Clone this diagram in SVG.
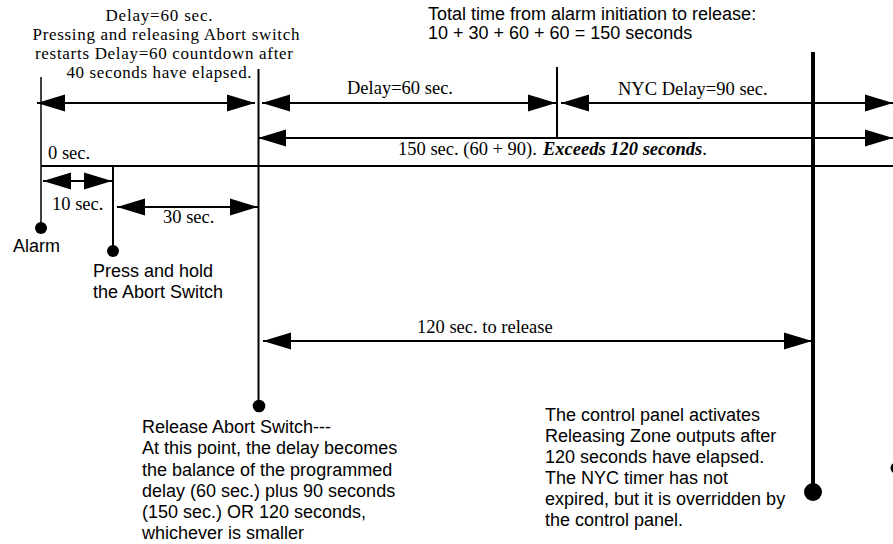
<svg xmlns="http://www.w3.org/2000/svg" width="893" height="544" viewBox="0 0 893 544">
<style>
.serif{font-family:"Liberation Serif","Times New Roman",serif;font-size:18.5px;fill:#000}
.serif-s{font-family:"Liberation Serif","Times New Roman",serif;font-size:17px;fill:#000}
.sans{font-family:"Liberation Sans",Arial,sans-serif;font-size:18px;fill:#000}
.ln{stroke:#000;stroke-width:2;fill:none}
.thin{stroke:#000;stroke-width:1.5;fill:none}
.thick{stroke:#000;stroke-width:4;fill:none}
.dim{stroke:#000;stroke-width:2;fill:none;marker-start:url(#ah);marker-end:url(#ah)}
.bi{font-weight:bold;font-style:italic}
</style>
<defs>
<marker id="ah" markerUnits="userSpaceOnUse" markerWidth="28" markerHeight="17" refX="28" refY="8.5" orient="auto-start-reverse" overflow="visible">
<path d="M0,0L28,8.5L0,17z" fill="#000"/>
</marker>
</defs>
<rect width="893" height="544" fill="#fff"/>

<g id="timeline">
<line class="ln" x1="41" y1="166" x2="893" y2="166"/>
<text class="serif" x="48" y="159">0 sec.</text>
</g>

<g id="alarm">
<line class="thin" x1="41" y1="77" x2="41" y2="228"/>
<circle cx="41" cy="228" r="6"/>
<text class="sans" x="13" y="252">Alarm</text>
</g>

<g id="press">
<line class="ln" x1="113" y1="166" x2="113" y2="251"/>
<circle cx="113" cy="251" r="6"/>
<text class="sans" x="93" y="277">Press and hold</text>
<text class="sans" x="93" y="298">the Abort Switch</text>
</g>

<g id="release">
<line class="ln" x1="258.5" y1="69" x2="258.5" y2="406"/>
<circle cx="259" cy="406" r="6.3"/>
<text class="sans" x="142" y="433">Release Abort Switch---</text>
<text class="sans" x="142" y="454">At this point, the delay becomes</text>
<text class="sans" x="142" y="476">the balance of the programmed</text>
<text class="sans" x="142" y="497">delay (60 sec.) plus 90 seconds</text>
<text class="sans" x="142" y="518">(150 sec.) OR 120 seconds,</text>
<text class="sans" x="142" y="539">whichever is smaller</text>
</g>

<g id="delay-end">
<line class="ln" x1="557" y1="67" x2="557" y2="137"/>
</g>

<g id="panel-release">
<line class="thick" x1="813" y1="52" x2="813" y2="492"/>
<circle cx="813" cy="492" r="9"/>
<text class="sans" x="545" y="421">The control panel activates</text>
<text class="sans" x="545" y="442">Releasing Zone outputs after</text>
<text class="sans" x="545" y="463">120 seconds have elapsed.</text>
<text class="sans" x="545" y="484">The NYC timer has not</text>
<text class="sans" x="545" y="505">expired, but it is overridden by</text>
<text class="sans" x="545" y="526">the control panel.</text>
</g>

<g id="nyc-end">
<circle cx="896" cy="468" r="5.5"/>
</g>

<g id="total">
<text class="sans" x="428" y="20">Total time from alarm initiation to release:</text>
<text class="sans" x="428" y="39">10 + 30 + 60 + 60 = 150 seconds</text>
</g>

<g id="first-delay-label" text-anchor="middle">
<text class="serif-s" x="159" y="21" textLength="107" lengthAdjust="spacing">Delay=60 sec.</text>
<text class="serif-s" x="166" y="40" textLength="267" lengthAdjust="spacing">Pressing and releasing Abort switch</text>
<text class="serif-s" x="164" y="59" textLength="258" lengthAdjust="spacing">restarts Delay=60 countdown after</text>
<text class="serif-s" x="159" y="78" textLength="185" lengthAdjust="spacing">40 seconds have elapsed.</text>
</g>

<g id="connectors">
<line class="dim" x1="37" y1="103" x2="255" y2="103"/>
<line class="dim" x1="262" y1="103" x2="556" y2="103"/>
<line class="dim" x1="561" y1="103" x2="893" y2="103"/>
<line class="dim" x1="258" y1="138" x2="893" y2="138"/>
<line class="dim" x1="43" y1="181" x2="112" y2="181"/>
<line class="dim" x1="117" y1="207" x2="258" y2="207"/>
<line class="dim" x1="263" y1="341" x2="812" y2="341"/>
</g>

<g id="labels">
<text class="serif" x="347" y="94">Delay=60 sec.</text>
<text class="serif" x="618" y="95">NYC Delay=90 sec.</text>
<text class="serif" x="398" y="155">150 sec. (60 + 90).<tspan class="bi" x="543">Exceeds 120 seconds</tspan>.</text>
<text class="serif" x="52" y="210">10 sec.</text>
<text class="serif" x="163" y="223">30 sec.</text>
<text class="serif" x="417" y="333">120 sec. to release</text>
</g>
</svg>
